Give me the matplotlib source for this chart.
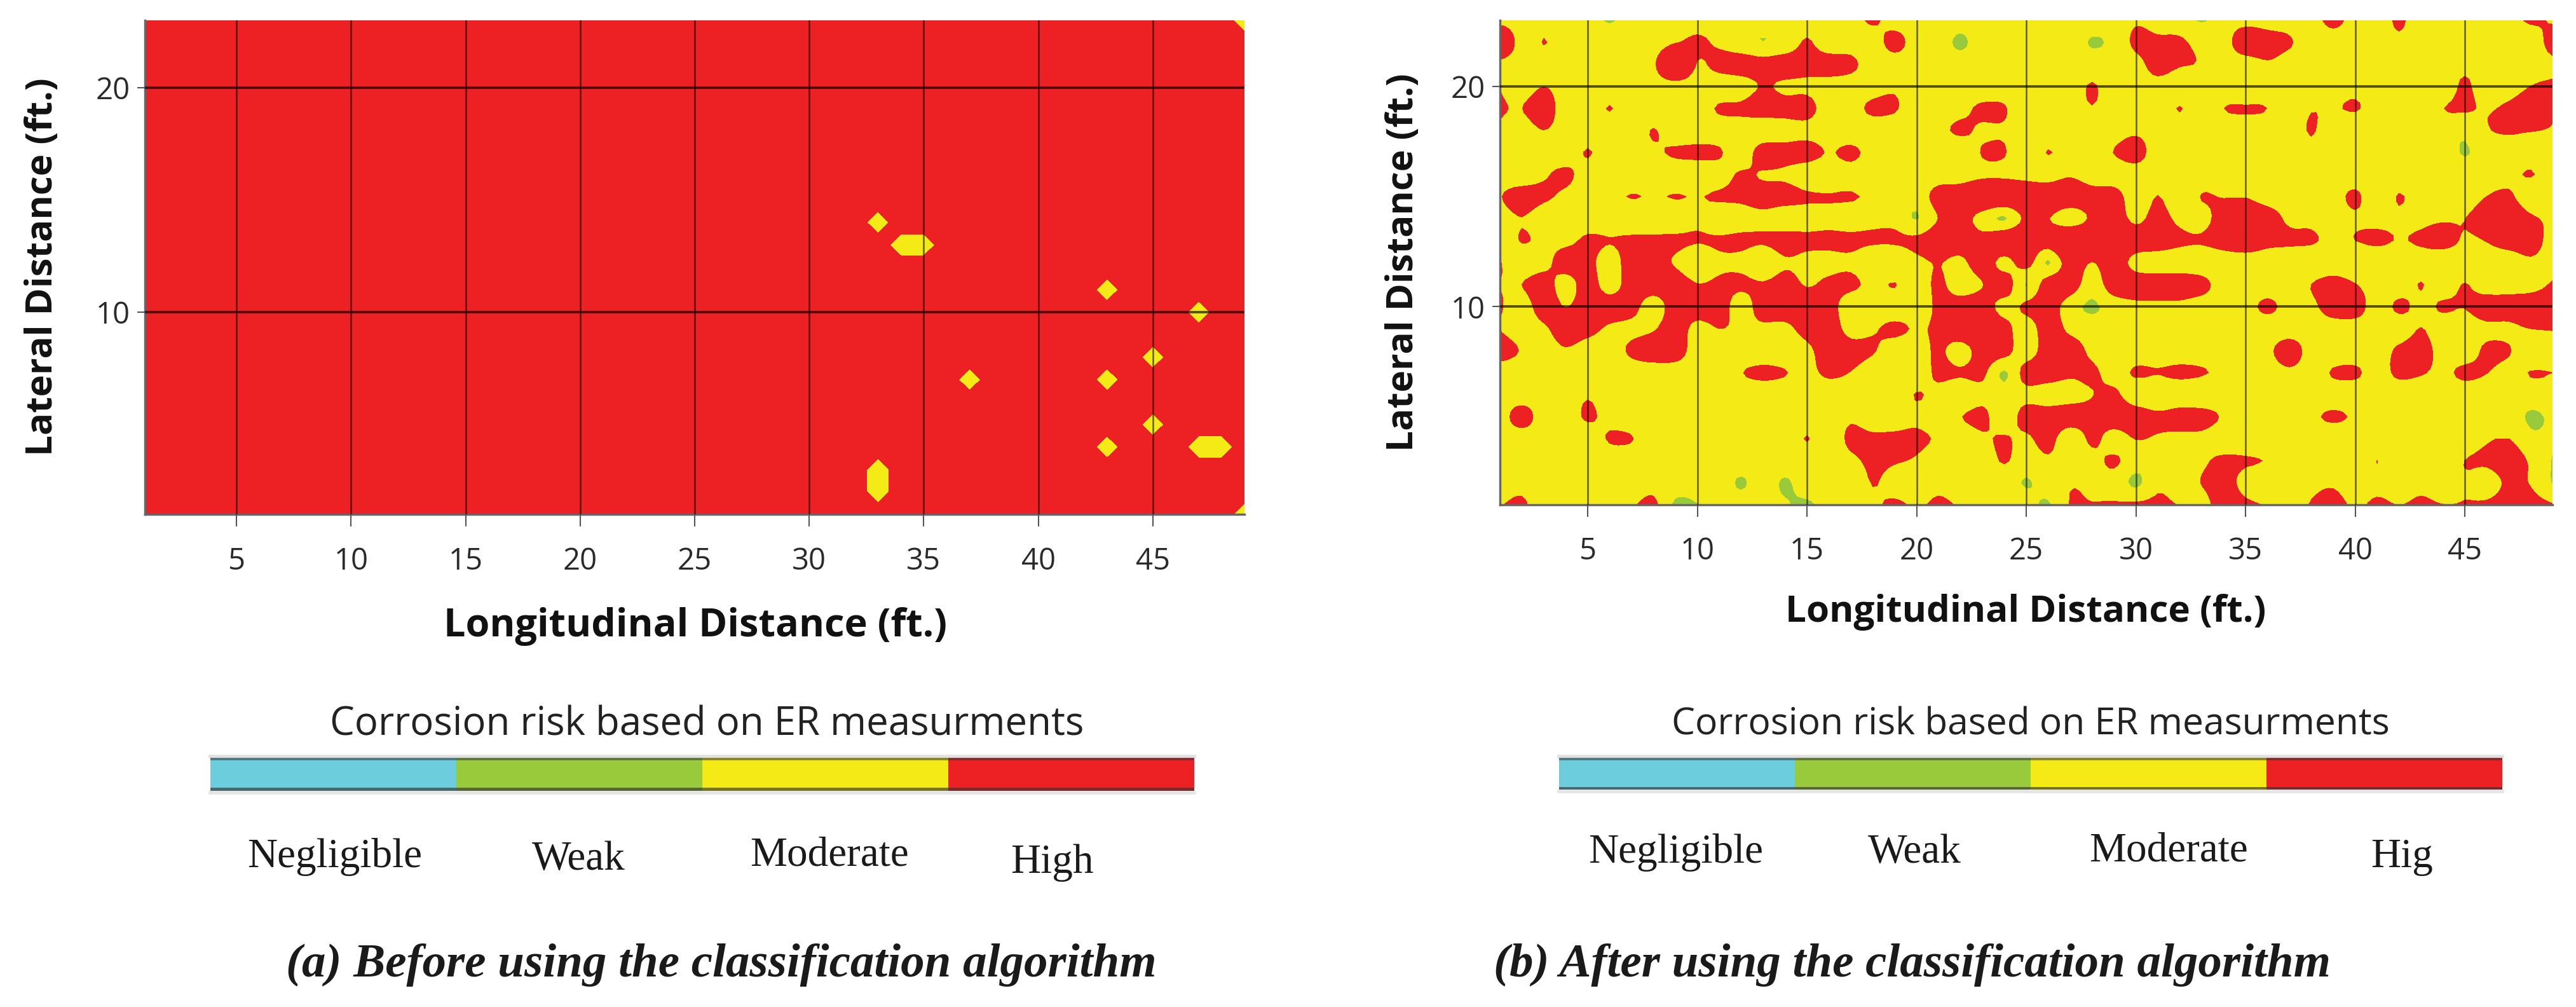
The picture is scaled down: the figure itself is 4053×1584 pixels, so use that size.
import numpy as np
import matplotlib
matplotlib.use('Agg')
import matplotlib.pyplot as plt

W, H = 4053, 1584

# Longitudinal / lateral grid of the survey, in feet.
longitudinal = list(range(1, 50))
lateral = list(range(1, 24))

x_ticks = [5, 10, 15, 20, 25, 30, 35, 40, 45]
y_ticks = [10, 20]

# Panel (a): everything is high risk except these grid points.
high_a = 9.1
moderate_a = 6
moderate_x = [33, 34, 35, 43, 47, 45, 37, 43, 45, 43, 47, 48, 33, 33, 49, 49]
moderate_y = [14, 13, 13, 11, 10, 8, 7, 7, 5, 4, 4, 4, 3, 2, 23, 1]

# Panel (b): risk readings, one list per lateral distance.
b_y23 = [6,6,6,6,6,4.8,6,6,6,6, 6,6,6,6,6,6,6,8,6,6, 6,6,6,6,6,6,6,6,6,7.2, 6.3,5.9,4.8,6,6,5.8,6,6,8.5,6, 5.5,8,5.5,6,6,6,6,8,7.1]
b_y22 = [12,6,7.6,6,6,6,6,6,7.3,8, 6.9,5.5,5,5.5,7.8,5.5,6,6,8.5,6, 6,4.6,6,5.1,6,6,6,4.85,5.5,8, 8,7.9,6.6,6,10,9,7.8,6,6,6, 6,7,6,6,6,6,6,5.5,9]
b_y21 = [6.4,6,6,6,6,6,6,7,12,7.3, 8.5,9,8.5,9,8.5,9,8.2,6,6,6, 6,6,6,6,6,6,6,6,6,6.6, 8.5,7.7,7.3,6,5.5,7.1,6,6,6,6, 6,6,6,6,6.75,6,6,6,6.6]
b_y20 = [7.4,6,7.45,6,6,6,6,6,6,6, 5.6,6,7.7,6.9,6.9,6,6,6.3,7.05,6, 6,6,5.5,6,6,6,6,7.7,6,6, 6.5,5.7,6,6,5.3,6,6,6,6,6.7, 6,6,6,5.5,8,5.5,6.1,7.5,8]
b_y19 = [7.7,7.45,9.5,5.5,6,7.6,6,6,6,6, 7.8,8,9,8.5,8.5,6,6.5,8,7.8,5.5, 6,6.65,8,7.7,5.5,6,6,7.37,6,6, 6,7.6,6,7.48,7.7,7.48,6,7.33,7.25,7.7, 6.4,6,6,7.45,7.8,7.25,8,9,7.6]
b_y18 = [7.13,6,7.45,6,6,6,6,7.6,6,6, 6,6,5.3,6.2,6.6,6,6,6,5.5,6, 6.8,7.9,7.1,7.2,6,6,6,6,6,6.9, 6,6,6,6,6,6,5.5,7.7,5.5,5.5, 6,6,6,6,5.5,7.3,7.7,7.6,7.34]
b_y17 = [6,6,6,6,7.65,6,6,7.05,7.8,8, 7.8,5.6,9,8.5,8.5,7.35,8,6.6,6,6, 6,5.5,7.65,7.65,5.5,7.6,6,6,7.55,9, 5.5,6,6,6,6,6,6,6.6,6,6, 6,6,6,6,4.85,6,6.45,6,6]
b_y16 = [6,5.5,7.1,8,6.3,6,6,6,6,6, 6.3,7.8,7.25,7,6,6,6.5,6,6,6, 6.3,6.3,7,7,6.4,6.15,7.1,5.7,5.5,5.5, 6,6,6,6,6,6,6,6,6,6, 6,6,6,6,6,6,6.75,7.65,6]
b_y15 = [7.3,9,8,6.9,6,6.9,7.58,7.3,7.6,7.4, 7.8,8,8.5,8.5,7.8,7.65,7.65,7.1,6,6, 8.5,9,10,10,10,10,10,9,9,5.5, 7.55,5.5,7.6,7.35,7.35,6.2,6,6,6.3,8, 5.5,7.65,6,6,6,7.5,8,5.5,6]
b_y14 = [6,7.4,5.7,6,6,6,6,6,6,6.9, 6,6.4,6.8,6,6.5,6.8,6.5,6.9,6.8,4.85, 7.55,8.5,6.4,4.7,8,7.6,5.5,8,9,6.8, 8.5,6.8,6.4,9,10,9,6.9,6.8,6,7.1, 6.7,7,6.9,7.2,7.45,9,10,8,6.84]
b_y13 = [5.5,7.65,6.8,6.7,8,7.6,8,8,8,7.7, 7.8,8,7.8,8.5,8,8,8,7.8,7.8,8, 9,9,8.5,10,10,9,12,10,10,9, 9,8,7.8,9,10,8.5,8,7.8,6.9,7.5, 7.9,7.4,7.8,8.5,7.2,7.6,9,9,6]
b_y12 = [7.6,6,6.5,9,8.5,6,9,8.5,7.2,5.5, 7,6.84,5.5,7.2,6.8,6.8,7,5.5,5.5,6.84, 7.6,6.8,9,6.6,8.5,4.7,9,7.4,9,6.5, 6,6,5.5,5.5,5.5,5.5,5.5,5.5,6,5.5, 5.5,6,6.4,5.5,6,6,5.5,6.9,6]
b_y11 = [7.4,7.5,9,6,9,6,9,9,9,7.6, 8,8,7.8,8.5,7.3,8,8,6.9,7.6,6, 8,6,7.4,9,4.85,9,9,6,9,9, 9,9,8.5,6,6,6,6,7.5,8.5,7.6, 6,6,7.6,6,7.6,6,6,6,7.9]
b_y10 = [7.8,6,9,7.4,9,9,8.5,6,9,9, 9,6,9,9,9,8.5,6,6,6,6, 8,9,9,6.5,8,9,6,4.7,6,6.8, 6.8,6.8,6,6,6.5,8,6.6,6.8,9,9, 6,8,6.8,7.8,7.6,9,9,10,10]
b_y09 = [7.4,6,7,9,8.5,7,6.8,7.2,9,6.5, 7.5,7,6.8,6.8,8.5,9,6.5,7.2,8,7.3, 8,10,10,8.5,6,9,6.8,6,6,6, 6,6,6,6,6,6,6,6,6,6, 6,6,7.55,6,6,6.8,6.8,7.5,7.7]
b_y08 = [9,7.25,6,7.2,6,6,8,9,9,6, 6,6,6,6,6.8,9,8.5,7.7,6.2,6, 8,6,9,8.5,6,9,9,6.8,6,6, 6,6,6,6,6,6.8,9,6.2,6,6, 6,8,8.5,6.5,6,8,7.7,5.5,6]
b_y07 = [5.7,6,6,6,6,6,6,6,6,6, 6,7.4,8,7.6,6.8,8,7.39,6,6,6, 8,7.8,8,4.7,8.5,9,8,8,6.5,7.8, 7.6,8,7.7,6.9,6,6,6.9,6.3,7.7,7.9, 6.5,8,7.7,7,8,7.55,6.5,7.6,7.5]
b_y06 = [6,6,6,6,7.27,6,6,6,6,6, 6,6,6,6,6,6,6,6,6,7.6, 6.7,5.5,6.9,6,6.75,6,6.3,7.4,8,5.8, 5.5,5.8,5.5,6,6,6,6,6,6.3,6, 6,6,6,6,6,6,6,6,6]
b_y05 = [6,8.7,6,6.1,7.8,6.65,6,6,6,6, 6,6,6,6,6,6,7.1,6,6.15,6.9, 6,7.4,8,6.1,8.5,9,9,8.5,9,9, 8,8.5,8.5,7.2,6,6,6,7.07,7.8,7.17, 6,6,6,6,6,6,6,4.75,5.3]
b_y04 = [6,6,6,6,6,7.7,7.6,6,6,6, 6,6,6,6,7.6,6,8,8,8,8, 7.14,6,7.1,7.7,7,8.5,5.5,8,6.4,7.55, 7.2,6.8,6.8,6,6,6,6,6,6,6, 6,6,6,6,6,7.17,7.5,5.5,5.3]
b_y03 = [6,6,6,6,6,6,6,6,6,6, 6,6,6,6,6,6,6.9,8,7.7,7.2, 6,6,6,7.7,6,7.07,6,6.75,7.8,6.3, 6,6,7.06,8,7.7,7.35,6,6,6,6, 7.52,6,6,6,7.5,8,9,7.1,4.85]
b_y02 = [6,6.75,6,6,6,6,6,6.8,6,6, 6,4.75,6,4.75,6,6,5.5,7.6,6.4,6, 6.8,6,6,6,4.85,6,7.3,6.9,6.6,4.5, 7,6.5,7.55,8.5,6.65,6,6,6.8,7.15,6, 6.8,6,6.8,6,7.2,6,8,7.33,4.85]
b_y01 = [7.35,8,5.5,6,6,6,7.17,8,4.5,4.9, 6,6,6,5.2,4.6,5.8,6,6.94,8,7.1, 8,7.17,6,7.55,6,4.7,7.6,7.6,7.7,8, 8,7.37,6.4,9,8,7.26,6,7.7,8.5,7.07, 8,7.45,8,7.55,7.6,8,9,8.5,7.7]

# Risk classes and the contour levels separating them.
risk_levels = [-20, 2.5, 5, 7.5, 30]
risk_colors = ['#6CCDDD', '#99CA3C', '#F4EB16', '#ED2024']
legend_title = 'Corrosion risk based on ER measurments'
legend_names = ['Negligible', 'Weak', 'Moderate', 'High']
legend_names_b = ['Negligible', 'Weak', 'Moderate', 'Hig']
class_share = [1, 1, 1, 1]

captions = ['(a) Before using the classification algorithm',
            '(b) After using the classification algorithm']


def px_axes(fig, left, top, right, bottom):
    """Make an axes from pixel bounds measured from the top left corner."""
    return fig.add_axes([left / W, 1 - bottom / H, (right - left) / W, (bottom - top) / H])


def px_text(fig, x, y, s, **kw):
    """Put centred text at a pixel position."""
    return fig.text(x / W, 1 - y / H, s, ha='center', va='center', **kw)


def cubic_refine(a, n, axis):
    """Catmull-Rom refine along one axis, n steps per grid cell."""
    a = np.moveaxis(a, axis, 0)
    p = np.concatenate([2 * a[:1] - a[1:2], a, 2 * a[-1:] - a[-2:-1]])
    out = []
    for i in range(a.shape[0] - 1):
        p0, p1, p2, p3 = p[i], p[i + 1], p[i + 2], p[i + 3]
        for t in np.arange(n) / n:
            out.append(0.5 * (2 * p1 + (p2 - p0) * t + (2 * p0 - 5 * p1 + 4 * p2 - p3) * t ** 2
                              + (3 * p1 - p0 - 3 * p2 + p3) * t ** 3))
    out.append(a[-1])
    return np.moveaxis(np.array(out), 0, axis)


def rounded_field(z, n=5):
    """Round the outlines of a contour map, keeping every fine value inside its cell's range."""
    fine = cubic_refine(cubic_refine(z, n, 0), n, 1)
    corners = np.stack([z[:-1, :-1], z[1:, :-1], z[:-1, 1:], z[1:, 1:]])
    lo, hi = corners.min(axis=0), corners.max(axis=0)
    # Cell each fine point belongs to; the last row and column share the final cell.
    jj = np.minimum(np.arange(fine.shape[0]) // n, z.shape[0] - 2)
    ii = np.minimum(np.arange(fine.shape[1]) // n, z.shape[1] - 2)
    fine = np.clip(fine, lo[np.ix_(jj, ii)], hi[np.ix_(jj, ii)])
    # Grid readings stay exactly as read.
    fine[::n, ::n] = z
    fx = np.linspace(longitudinal[0], longitudinal[-1], fine.shape[1])
    fy = np.linspace(lateral[0], lateral[-1], fine.shape[0])
    return fx, fy, fine


def style_map(ax):
    """Limits, ticks and grid shared by both maps."""
    ax.set_xlim(1, 49)
    ax.set_ylim(1, 23)
    ax.set_xticks(x_ticks)
    ax.set_yticks(y_ticks)
    ax.tick_params(axis='x', length=14, width=1.5, color='#555555', labelsize=34,
                   labelcolor='#2a2a2a', pad=22)
    ax.tick_params(axis='y', length=9, width=1.5, color='#555555', labelsize=34,
                   labelcolor='#2a2a2a', pad=8)
    # Grid sits on top of the filled map.
    ax.set_axisbelow(False)
    ax.grid(axis='x', color='black', alpha=0.6, linewidth=1.8)
    ax.grid(axis='y', color='black', alpha=0.65, linewidth=2.8)
    for side in ['top', 'right']:
        ax.spines[side].set_visible(False)
    for side in ['left', 'bottom']:
        ax.spines[side].set_color('#666666')
        ax.spines[side].set_linewidth(2.5)


def plot_scale(fig, left, top, right, bottom):
    """Draw the four class colour bar with its dark rims and soft shadow."""
    ax = px_axes(fig, left, top, right, bottom)
    edges = np.cumsum([0] + class_share[:-1])
    ax.bar(edges, [1] * 4, width=class_share, align='edge', color=risk_colors)
    ax.set_xlim(0, sum(class_share))
    ax.set_ylim(0, 1)
    ax.axhline(0.98, color='#333333', alpha=0.55, linewidth=3.5)
    ax.axhline(0.03, color='#333333', alpha=0.65, linewidth=5)
    ax.axhline(1.04, color='#999999', alpha=0.3, linewidth=4, clip_on=False)
    ax.axhline(-0.06, color='#999999', alpha=0.25, linewidth=4, clip_on=False)
    ax.axis('off')


fig = plt.figure(figsize=(W / 100, H / 100), dpi=100, facecolor='white')
plt.rcParams['font.family'] = ['Open Sans', 'DejaVu Sans']

# Panel (a) grid, filled from the few moderate points.
z_a = np.full((len(lateral), len(longitudinal)), high_a, dtype=float)
for mx, my in zip(moderate_x, moderate_y):
    z_a[my - 1, mx - 1] = moderate_a

z_b = np.array([b_y01, b_y02, b_y03, b_y04, b_y05, b_y06, b_y07, b_y08, b_y09, b_y10, b_y11, b_y12,
                b_y13, b_y14, b_y15, b_y16, b_y17, b_y18, b_y19, b_y20, b_y21, b_y22, b_y23])

ax_a = px_axes(fig, 228, 32, 1958, 809)
ax_a.contourf(longitudinal, lateral, z_a, levels=risk_levels, colors=risk_colors)
style_map(ax_a)
ax_b = px_axes(fig, 2360, 32, 4016, 794)
ax_b.contourf(*rounded_field(z_b), levels=risk_levels, colors=risk_colors)
style_map(ax_b)

# Axis titles.
label_font = dict(fontweight='bold', color='#111111')
px_text(fig, 1094, 985, 'Longitudinal Distance (ft.)', fontsize=44, **label_font)
px_text(fig, 3187, 963, 'Longitudinal Distance (ft.)', fontsize=42, **label_font)
px_text(fig, 67, 420, 'Lateral Distance (ft.)', rotation=90, fontsize=42, **label_font)
px_text(fig, 2208, 413, 'Lateral Distance (ft.)', rotation=90, fontsize=42, **label_font)

# Colour scales.
px_text(fig, 1112, 1140, legend_title, fontsize=44.5, color='#222222')
px_text(fig, 3195, 1140, legend_title, fontsize=42.3, color='#222222')
plot_scale(fig, 331, 1192, 1879, 1244)
plot_scale(fig, 2453, 1192, 3937, 1242)

serif = dict(family=['Liberation Serif', 'DejaVu Serif'], color='#1a1a1a', fontsize=47)
for name, x, y in zip(legend_names, [527, 910, 1305, 1655], [1348, 1352, 1346, 1357]):
    px_text(fig, x, y, name, **serif)
for name, x, y in zip(legend_names_b, [2637, 3012, 3412, 3779], [1341, 1341, 1339, 1348]):
    px_text(fig, x, y, name, **serif)

# Panel captions.
cap_font = dict(family=['Liberation Serif', 'DejaVu Serif'], fontweight='bold', style='italic',
                color='#1a1a1a', fontsize=54)
px_text(fig, 1135, 1518, captions[0], **cap_font)
px_text(fig, 3009, 1518, captions[1], **cap_font)

fig.savefig('out.png', dpi=100, facecolor='white')
